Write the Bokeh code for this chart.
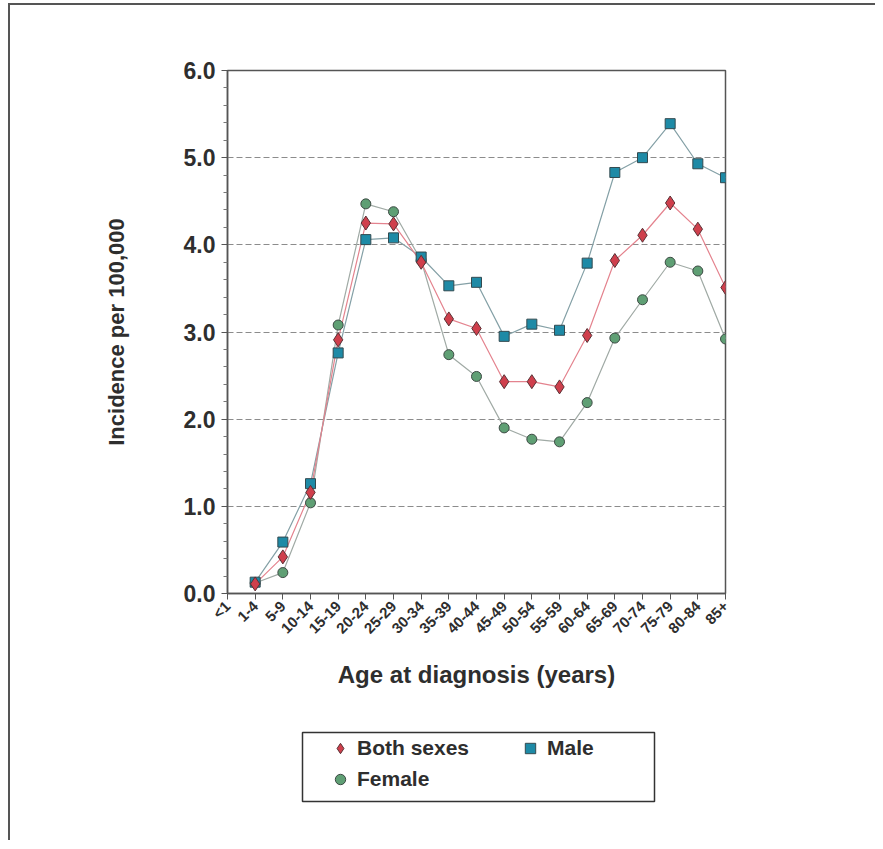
import math
from bokeh.plotting import figure
from bokeh.layouts import column
from bokeh.models import (Range1d, FixedTicker, Legend, LegendItem, BoxAnnotation,
                          ColumnDataSource, NumeralTickFormatter)
from bokeh.embed import file_html
from bokeh.resources import INLINE

nan = float("nan")

# ---- data ----
ages = ["<1", "1-4", "5-9", "10-14", "15-19", "20-24", "25-29", "30-34",
        "35-39", "40-44", "45-49", "50-54", "55-59", "60-64", "65-69",
        "70-74", "75-79", "80-84", "85+"]
both_sexes = [nan, 0.11, 0.42, 1.16, 2.91, 4.25, 4.24, 3.80, 3.15, 3.04,
              2.43, 2.43, 2.37, 2.96, 3.82, 4.11, 4.48, 4.18, 3.51]
male = [nan, 0.13, 0.59, 1.26, 2.76, 4.06, 4.08, 3.86, 3.53, 3.57,
        2.95, 3.09, 3.02, 3.79, 4.83, 5.00, 5.39, 4.93, 4.77]
female = [nan, 0.12, 0.24, 1.04, 3.08, 4.47, 4.38, 3.82, 2.74, 2.49,
          1.90, 1.77, 1.74, 2.19, 2.93, 3.37, 3.80, 3.70, 2.92]
y_major_ticks = [0, 1, 2, 3, 4, 5, 6]
y_minor_ticks = [0.2, 0.4, 0.6, 0.8, 1.2, 1.4, 1.6, 1.8, 2.2, 2.4, 2.6, 2.8,
                 3.2, 3.4, 3.6, 3.8, 4.2, 4.4, 4.6, 4.8, 5.2, 5.4, 5.6, 5.8]
grid_values = [1, 2, 3, 4, 5]

FONT = "Liberation Sans"
TXT = "#2e2e2e"

x_pos = [ages.index(a) for a in ages]
src = ColumnDataSource(dict(x=x_pos, both=both_sexes, male=male, female=female))

fig = figure(width=865, height=720, output_backend="svg", toolbar_location=None,
             x_range=Range1d(0, len(ages) - 1), y_range=Range1d(0, 6),
             min_border_left=217, min_border_right=150,
             min_border_top=65, min_border_bottom=132,
             background_fill_color="white", border_fill_color="white")

fig.outline_line_color = "#555555"
fig.outline_line_width = 1.5

# grid
fig.xgrid.visible = False
fig.ygrid.ticker = FixedTicker(ticks=grid_values)
fig.ygrid.grid_line_color = "#8c8c8c"
fig.ygrid.grid_line_dash = "6 3"
fig.ygrid.grid_line_width = 1

# x axis
xa = fig.xaxis[0]
xa.ticker = FixedTicker(ticks=x_pos)
xa.major_label_overrides = {i: a for i, a in zip(x_pos, ages)}
xa.major_label_orientation = math.pi / 4
xa.major_label_text_font = FONT
xa.major_label_text_font_size = "15px"
xa.major_label_text_font_style = "bold"
xa.major_label_text_color = TXT
xa.major_label_standoff = 4
xa.major_tick_out = 6
xa.major_tick_in = 0
xa.minor_tick_line_color = None
xa.axis_line_color = "#555555"
xa.axis_line_width = 1.5
xa.major_tick_line_color = "#555555"
xa.axis_label = "Age at diagnosis (years)"
xa.axis_label_text_font = FONT
xa.axis_label_text_font_size = "24px"
xa.axis_label_text_font_style = "bold"
xa.axis_label_text_color = TXT
xa.axis_label_standoff = 15

# y axis
ya = fig.yaxis[0]
ya.ticker = FixedTicker(ticks=y_major_ticks, minor_ticks=y_minor_ticks)
ya.formatter = NumeralTickFormatter(format="0.0")
ya.major_label_text_font = FONT
ya.major_label_text_font_size = "23px"
ya.major_label_text_font_style = "bold"
ya.major_label_text_color = TXT
ya.major_label_standoff = 6
ya.major_tick_out = 6
ya.major_tick_in = 0
ya.minor_tick_out = 4
ya.minor_tick_in = 0
ya.axis_line_color = "#555555"
ya.axis_line_width = 1.5
ya.major_tick_line_color = "#555555"
ya.minor_tick_line_color = "#777777"
ya.axis_label = "Incidence per 100,000"
ya.axis_label_text_font = FONT
ya.axis_label_text_font_size = "22px"
ya.axis_label_text_font_style = "bold"
ya.axis_label_text_color = TXT
ya.axis_label_standoff = 52

# series styles
styles = {
    "female": dict(marker="circle", size=10, fill_color="#5f9f74",
                   line_color="#3d4a44", line="#a0aaa5"),
    "male": dict(marker="square", size=10, fill_color="#1e8aa6",
                 line_color="#334a50", line="#84a0a6"),
    "both": dict(marker="diamond", size=14, fill_color="#cf3f4c",
                 line_color="#5a3236", line="#e4838e"),
}

for key in ["female", "male", "both"]:
    fig.line("x", key, source=src, line_color=styles[key]["line"], line_width=1.2)
for key in ["female", "male", "both"]:
    st = styles[key]
    fig.scatter("x", key, source=src, marker=st["marker"], size=st["size"],
                fill_color=st["fill_color"], line_color=st["line_color"], line_width=1)

# ---- legend panel below the chart ----
leg = figure(width=865, height=115, output_backend="svg", toolbar_location=None,
             x_range=Range1d(0, len(ages) - 1), y_range=Range1d(0, 6),
             x_axis_location=None, y_axis_location=None,
             min_border_left=217, min_border_right=150,
             min_border_top=0, min_border_bottom=0,
             background_fill_color="white", border_fill_color="white")
leg.grid.visible = False
leg.outline_line_color = None

# legend box (screen units, relative to the frame)
leg.add_layout(BoxAnnotation(left=75, right=427, bottom=39, top=108,
                             left_units="screen", right_units="screen",
                             bottom_units="screen", top_units="screen",
                             fill_alpha=0, line_color="#333333", line_alpha=1,
                             line_width=1.5))

lr = {}
for key in ["both", "male", "female"]:
    st = styles[key]
    lr[key] = leg.scatter("x", key, source=src, marker=st["marker"], size=st["size"],
                          fill_color=st["fill_color"], line_color=st["line_color"],
                          line_width=1, visible=False)

legend = Legend(items=[LegendItem(label="Both sexes", renderers=[lr["both"]]),
                       LegendItem(label="Male", renderers=[lr["male"]]),
                       LegendItem(label="Female", renderers=[lr["female"]])],
                orientation="horizontal", ncols=2, location=(100, 48))
legend.label_text_font = FONT
legend.label_text_font_size = "21px"
legend.label_text_font_style = "bold"
legend.label_text_color = TXT
legend.border_line_color = None
legend.background_fill_alpha = 0
legend.padding = 0
legend.spacing = 5
legend.glyph_width = 26
legend.glyph_height = 26
legend.label_height = 26
legend.label_standoff = 4
legend.label_width = 155
legend.margin = 0
leg.add_layout(legend, "center")

p = column(fig, leg, spacing=0)
p.styles = {"border-left": "2px solid #555555", "border-top": "2px solid #555555",
            "margin-left": "8px", "margin-top": "3px"}

open("out.html", "w").write(file_html(p, INLINE))
